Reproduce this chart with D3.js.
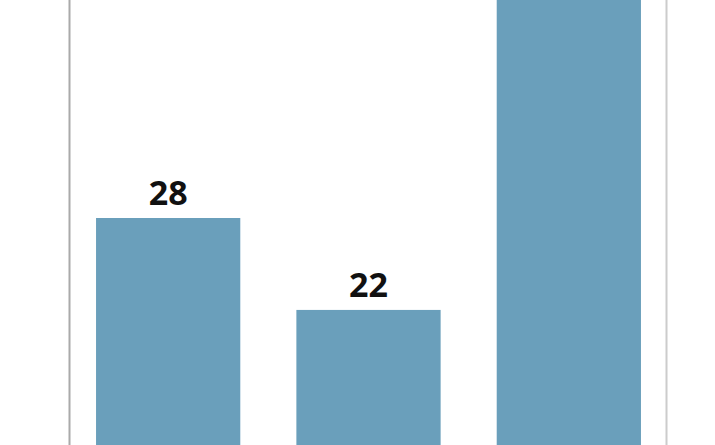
<!DOCTYPE html>
<html>
<head>
<meta charset="utf-8">
<script src="https://d3js.org/d3.v7.min.js"></script>
<style>
  body { margin: 0; background: #fff; }
  svg { display: block; }
</style>
</head>
<body>
<div id="chart"></div>
<script>
// data (third bar runs past the top edge, value estimated, its label is cropped away)
var categories = ["A", "B", "C"];
var values = [28, 22, 46];
var labels = ["28", "22", null];

var width = 715, height = 445;

var svg = d3.select("#chart").append("svg")
  .attr("width", width)
  .attr("height", height);

// band scale across the framed area, zero line sits below the crop
var xs = d3.scaleBand().domain(categories).range([70, 667]).paddingInner(0.28).paddingOuter(0.13);
var ys = d3.scaleLinear().domain([0, 28]).range([647, 218]);

// frame lines
svg.append("line")
  .attr("x1", 69.5).attr("x2", 69.5).attr("y1", 0).attr("y2", height)
  .attr("stroke", "#aaaaaa").attr("stroke-width", 2);
svg.append("line")
  .attr("x1", 666.5).attr("x2", 666.5).attr("y1", 0).attr("y2", height)
  .attr("stroke", "#cccccc").attr("stroke-width", 2);

// bars
svg.selectAll("rect.bar")
  .data(values)
  .enter()
  .append("rect")
  .attr("class", "bar")
  .attr("x", function(d, i) { return xs(categories[i]); })
  .attr("y", function(d) { return ys(d); })
  .attr("width", xs.bandwidth())
  .attr("height", function(d) { return ys(0) - ys(d); })
  .attr("fill", "#6a9fbb");

// value labels (only the ones visible in the crop)
var shown = values.map(function(d, i) { return {v: d, i: i}; })
  .filter(function(d) { return labels[d.i] != null; });

svg.selectAll("text.val")
  .data(shown)
  .enter()
  .append("text")
  .attr("class", "val")
  .attr("x", function(d) { return xs(categories[d.i]) + xs.bandwidth() / 2; })
  .attr("y", function(d) { return ys(d.v) - 13; })
  .attr("text-anchor", "middle")
  .style("font-family", "'Open Sans', sans-serif")
  .style("font-weight", "bold")
  .style("font-size", "34px")
  .style("fill", "#111111")
  .text(function(d) { return labels[d.i]; });
</script>
</body>
</html>
